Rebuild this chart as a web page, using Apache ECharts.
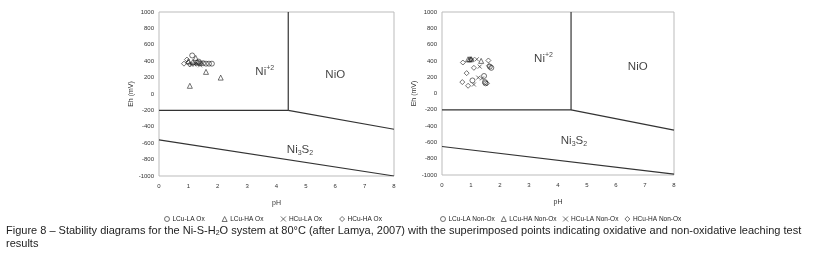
<!DOCTYPE html>
<html>
<head>
<meta charset="utf-8">
<script src="https://cdn.jsdelivr.net/npm/echarts@6/dist/echarts.min.js"></script>
<style>
  html, body { margin: 0; padding: 0; background: #fff; }
  #chart { width: 819px; height: 254px; }
</style>
</head>
<body>
<div id="chart"></div>
<script>
// axis ticks
const phTicks = [0, 1, 2, 3, 4, 5, 6, 7, 8]
const ehMin = -1000
const ehMax = 1000

// oxidative leaching points [pH, Eh]
const lculaOx = [[1.13, 470], [1.3, 380], [1.4, 375], [1.5, 375], [1.6, 370], [1.7, 370], [1.8, 370], [1.35, 395]]
const lcuhaOx = [[1.25, 440], [1.0, 400], [1.15, 390], [1.6, 270], [2.1, 200], [1.05, 100]]
const hculaOx = [[1.1, 360], [1.2, 360], [1.3, 365], [1.4, 350], [1.25, 375], [1.45, 380]]
const hcuhaOx = [[0.85, 370], [0.95, 420], [1.0, 385], [1.05, 360]]

// non-oxidative leaching points [pH, Eh]
const lculaNon = [[1.05, 160], [1.45, 215], [1.5, 125], [1.48, 140], [1.7, 315], [1.65, 330]]
const lcuhaNon = [[1.35, 400], [0.9, 420], [0.95, 420], [1.0, 420]]
const hculaNon = [[1.3, 330], [1.1, 110], [1.25, 195], [1.38, 185], [1.2, 420], [1.05, 420]]
const hcuhaNon = [[0.72, 380], [0.85, 250], [0.7, 140], [0.9, 95], [1.1, 315], [1.6, 405], [1.55, 125], [1.62, 340], [1.0, 420]]

// stability field boundaries
const niLeftA = [[0, -200], [4.4, -200], [4.4, 1000]]
const niLeftB = [[4.4, -200], [8, -430]]
const niLeftC = [[0, -560], [8, -1000]]
const niRightA = [[0, -200], [4.45, -200], [4.45, 1000]]
const niRightB = [[4.45, -200], [8, -450]]
const niRightC = [[0, -650], [8, -990]]

// field labels [pH, Eh]
const labelsLeft = [[3.6, 270, 'ni2'], [6.0, 230, 'nio'], [4.8, -680, 'nis']]
const labelsRight = [[3.5, 430, 'ni2'], [6.75, 330, 'nio'], [4.55, -580, 'nis']]

const legendLeft = ['LCu-LA Ox', 'LCu-HA Ox', 'HCu-LA Ox', 'HCu-HA Ox']
const legendRight = ['LCu-LA Non-Ox', 'LCu-HA Non-Ox', 'HCu-LA Non-Ox', 'HCu-HA Non-Ox']

const FONT = '"Liberation Sans", Arial, sans-serif'
const crossPath = 'path://M0,0L10,10M10,0L0,10'

const chart = echarts.init(document.getElementById('chart'))

const makeAxes = (idx) => ({
  x: {
    type: 'value', gridIndex: idx, min: 0, max: 8, interval: 1,
    name: 'pH', nameLocation: 'middle', nameGap: 24,
    nameTextStyle: { fontSize: 7, color: '#333', fontFamily: FONT },
    axisLine: { show: false }, axisTick: { show: false }, splitLine: { show: false },
    axisLabel: { fontSize: 6, color: '#333', margin: 7, fontFamily: FONT }
  },
  y: {
    type: 'value', gridIndex: idx, min: ehMin, max: ehMax, interval: 200,
    name: 'Eh (mV)', nameLocation: 'middle', nameGap: 18, nameRotate: 90,
    nameTextStyle: { fontSize: 7, color: '#333', fontFamily: FONT },
    axisLine: { show: false }, axisTick: { show: false }, splitLine: { show: false },
    axisLabel: { fontSize: 6, color: '#333', margin: 5, fontFamily: FONT, formatter: (v) => String(v) }
  }
})

const ax0 = makeAxes(0)
const ax1 = makeAxes(1)

const pts = (name, data, idx, symbol, size) => ({
  name, type: 'scatter', xAxisIndex: idx, yAxisIndex: idx, data,
  symbol, symbolSize: size,
  itemStyle: { color: 'none', borderColor: '#222', borderWidth: 0.8 },
  z: 5
})

const bound = (data, idx) => ({
  type: 'line', xAxisIndex: idx, yAxisIndex: idx, data,
  symbol: 'none', silent: true,
  lineStyle: { color: '#333', width: 1.2 }
})

const fieldRich = {
  t: { fontSize: 11.5, color: '#111', fontFamily: FONT },
  sup: { fontSize: 7, color: '#111', fontFamily: FONT, verticalAlign: 'top', padding: [0, 0, 7, 0] },
  sub: { fontSize: 7, color: '#111', fontFamily: FONT, padding: [7, 0, 0, 0] }
}
const fieldText = {
  ni2: '{t|Ni}{sup|+2}',
  nio: '{t|NiO}',
  nis: '{t|Ni}{sub|3}{t|S}{sub|2}'
}

const fieldLabels = (data, idx) => ({
  type: 'scatter', xAxisIndex: idx, yAxisIndex: idx, silent: true,
  data: data.map(d => ({ value: [d[0], d[1]], key: d[2] })),
  symbolSize: 0,
  label: {
    show: true, position: 'inside',
    formatter: (p) => fieldText[p.data.key],
    rich: fieldRich
  }
})

const legendBase = {
  itemWidth: 5, itemHeight: 5, itemGap: 15, top: 209,
  textStyle: { fontSize: 6.5, color: '#222', fontFamily: FONT, padding: [0, 0, 0, -2] },
  itemStyle: { color: 'none', borderColor: '#222', borderWidth: 0.8 }
}

chart.setOption({
  animation: false,
  grid: [
    { left: 159, top: 12, width: 235, height: 164, show: true, borderColor: '#bbb', borderWidth: 1 },
    { left: 442, top: 12, width: 232, height: 163, show: true, borderColor: '#bbb', borderWidth: 1 }
  ],
  xAxis: [ax0.x, ax1.x],
  yAxis: [ax0.y, ax1.y],
  legend: [
    Object.assign({}, legendBase, {
      left: 157,
      data: [
        { name: legendLeft[0], icon: 'circle' },
        { name: legendLeft[1], icon: 'triangle' },
        { name: legendLeft[2], icon: crossPath },
        { name: legendLeft[3], icon: 'diamond' }
      ]
    }),
    Object.assign({}, legendBase, {
      left: 433, itemGap: 4,
      data: [
        { name: legendRight[0], icon: 'circle' },
        { name: legendRight[1], icon: 'triangle' },
        { name: legendRight[2], icon: crossPath },
        { name: legendRight[3], icon: 'diamond' }
      ]
    })
  ],
  graphic: [
    {
      type: 'text', left: 6, top: 224,
      style: {
        text: '{c|Figure 8 – Stability diagrams for the Ni-S-H}{s|2}{c|O system at 80°C (after Lamya, 2007) with the superimposed points indicating oxidative and non-oxidative leaching test}\n{c|results}',
        rich: {
          c: { fontSize: 11, fontFamily: FONT, fill: '#222', lineHeight: 13 },
          s: { fontSize: 7, fontFamily: FONT, fill: '#222', padding: [6, 0, 0, 0], lineHeight: 13 }
        }
      }
    }
  ],
  series: [
    bound(niLeftA, 0), bound(niLeftB, 0), bound(niLeftC, 0),
    bound(niRightA, 1), bound(niRightB, 1), bound(niRightC, 1),
    fieldLabels(labelsLeft, 0), fieldLabels(labelsRight, 1),
    pts(legendLeft[0], lculaOx, 0, 'circle', 5),
    pts(legendLeft[1], lcuhaOx, 0, 'triangle', 5),
    pts(legendLeft[2], hculaOx, 0, crossPath, 4),
    pts(legendLeft[3], hcuhaOx, 0, 'diamond', 5),
    pts(legendRight[0], lculaNon, 1, 'circle', 5),
    pts(legendRight[1], lcuhaNon, 1, 'triangle', 5),
    pts(legendRight[2], hculaNon, 1, crossPath, 4),
    pts(legendRight[3], hcuhaNon, 1, 'diamond', 5)
  ]
})
</script>
</body>
</html>
